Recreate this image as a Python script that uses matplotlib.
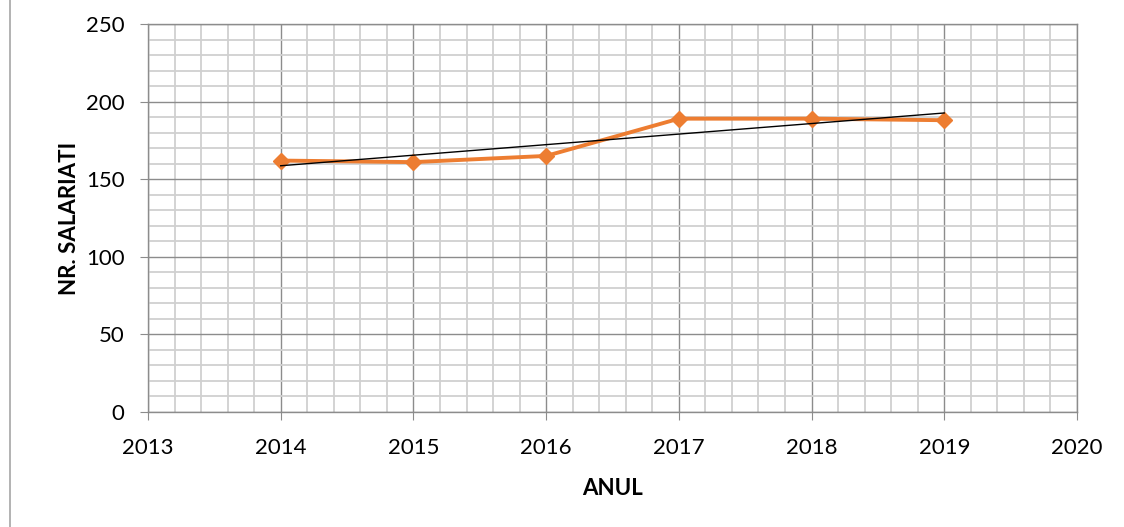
import matplotlib.pyplot as plt
import numpy as np
from matplotlib.ticker import MultipleLocator
from matplotlib.patches import Rectangle

plt.rcParams['font.family'] = ['Lato', 'DejaVu Sans']

years = [2014, 2015, 2016, 2017, 2018, 2019]
salariati = [162, 161, 165, 189, 189, 188]

fig = plt.figure(figsize=(11.24, 5.27), dpi=100)
ax = fig.add_axes([148 / 1124, 1 - 412 / 527, (1077 - 148) / 1124, (412 - 24) / 527])

# figure border (only the left edge is visible in the reference)
fig.add_artist(Rectangle((10 / 1124, -0.01), 1.2, 1.1, transform=fig.transFigure,
                         fill=False, edgecolor='#a6a6a6', linewidth=1.2))

ax.plot(years, salariati, color='#ED7D31', linewidth=2.8, marker='D',
        markersize=8.5, zorder=3)

# linear trend line
k, b = np.polyfit(years, salariati, 1)
xt = np.array([years[0], years[-1]])
ax.plot(xt, k * xt + b, color='black', linewidth=1.0, zorder=4)

ax.set_xlim(2013, 2020)
ax.set_ylim(0, 250)
ax.xaxis.set_major_locator(MultipleLocator(1))
ax.xaxis.set_minor_locator(MultipleLocator(0.2))
ax.yaxis.set_major_locator(MultipleLocator(50))
ax.yaxis.set_minor_locator(MultipleLocator(10))
ax.grid(which='minor', color='#d0d0d0', linewidth=1.3)
ax.grid(which='major', color='#8c8c8c', linewidth=1.0)
ax.set_axisbelow(True)

for s in ax.spines.values():
    s.set_color('#8c8c8c')
    s.set_linewidth(1.0)

ax.tick_params(which='major', direction='out', length=6, color='#8c8c8c',
               labelsize=16)
ax.tick_params(which='minor', length=0)
ax.tick_params(axis='x', pad=13)
ax.tick_params(axis='y', pad=11)

ax.set_xlabel('ANUL', fontsize=16, fontweight='bold', labelpad=14)
ax.set_ylabel('NR. SALARIATI', fontsize=16, fontweight='bold', labelpad=4)

fig.savefig('out.png', dpi=100)
